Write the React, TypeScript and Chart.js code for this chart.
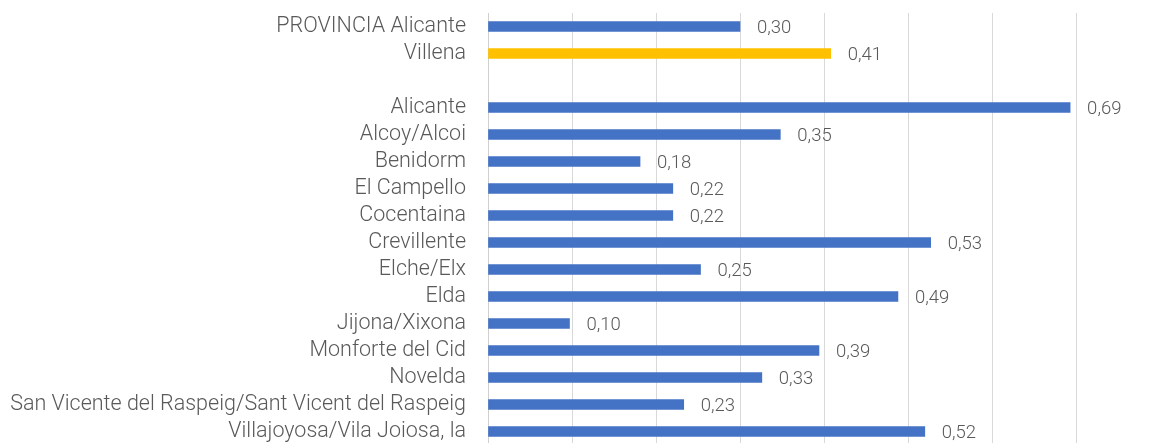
import React, { useEffect, useRef } from "react";
import { Chart, registerables } from "chart.js";

Chart.register(...registerables);

const categories: string[] = [
  "PROVINCIA Alicante",
  "Villena",
  "",
  "Alicante",
  "Alcoy/Alcoi",
  "Benidorm",
  "El Campello",
  "Cocentaina",
  "Crevillente",
  "Elche/Elx",
  "Elda",
  "Jijona/Xixona",
  "Monforte del Cid",
  "Novelda",
  "San Vicente del Raspeig/Sant Vicent del Raspeig",
  "Villajoyosa/Vila Joiosa, la",
];

const values: (number | null)[] = [
  0.3, 0.408, null, 0.693, 0.348, 0.181, 0.22, 0.22, 0.527, 0.253, 0.488, 0.097, 0.394, 0.326, 0.233, 0.52,
];

const barColors: string[] = categories.map((c) => (c === "Villena" ? "#FFC000" : "#4472C4"));

const FONT = "Roboto";

const valueLabelPlugin = {
  id: "valueLabels",
  afterDatasetsDraw(chart: any) {
    const ctx = chart.ctx;
    const meta = chart.getDatasetMeta(0);
    ctx.save();
    ctx.font = `300 18.5px ${FONT}`;
    ctx.fillStyle = "#595959";
    ctx.textAlign = "left";
    ctx.textBaseline = "middle";
    meta.data.forEach((bar: any, i: number) => {
      const v = values[i];
      if (v === null || v === undefined) return;
      const txt = v.toFixed(2).replace(".", ",");
      ctx.fillText(txt, bar.x + 17, bar.y + 2);
    });
    ctx.restore();
  },
};

export default function App() {
  const ref = useRef<HTMLCanvasElement | null>(null);

  useEffect(() => {
    document.body.style.margin = "0";
    document.body.style.overflow = "hidden";
    const canvas = ref.current;
    if (!canvas) return;
    const chart = new Chart(canvas, {
      type: "bar",
      data: {
        labels: categories,
        datasets: [
          {
            data: values as any,
            backgroundColor: barColors,
            barThickness: 10,
          },
        ],
      },
      options: {
        indexAxis: "y",
        animation: false,
        responsive: false,
        maintainAspectRatio: false,
        layout: { padding: { top: 13, left: 0, right: 0, bottom: 0 } },
        plugins: {
          legend: { display: false },
          tooltip: { enabled: false },
        },
        scales: {
          x: {
            min: 0,
            max: 0.8,
            afterFit: (scale: any) => {
              scale.height = 0;
              scale.paddingLeft = 0;
              scale.paddingRight = 0;
            },
            ticks: { display: false, stepSize: 0.1 },
            grid: { color: "#d9d9d9", lineWidth: 1, drawTicks: false },
            border: { display: false },
          },
          y: {
            afterFit: (scale: any) => {
              scale.width = 488;
              scale.paddingTop = 0;
              scale.paddingBottom = 0;
            },
            ticks: {
              padding: 22,
              color: "#595959",
              font: { family: FONT, size: 21.5, weight: "300" as any },
              autoSkip: false,
            },
            grid: { display: false, drawTicks: false },
            border: { display: true, color: "#d0d0d0", width: 1 },
          },
        },
      },
      plugins: [valueLabelPlugin],
    });
    return () => chart.destroy();
  }, []);

  return (
    <div style={{ width: 1149, height: 443, overflow: "hidden", position: "relative" }}>
      <canvas ref={ref} width={1160} height={445} style={{ display: "block", width: 1160, height: 445 }} />
    </div>
  );
}
